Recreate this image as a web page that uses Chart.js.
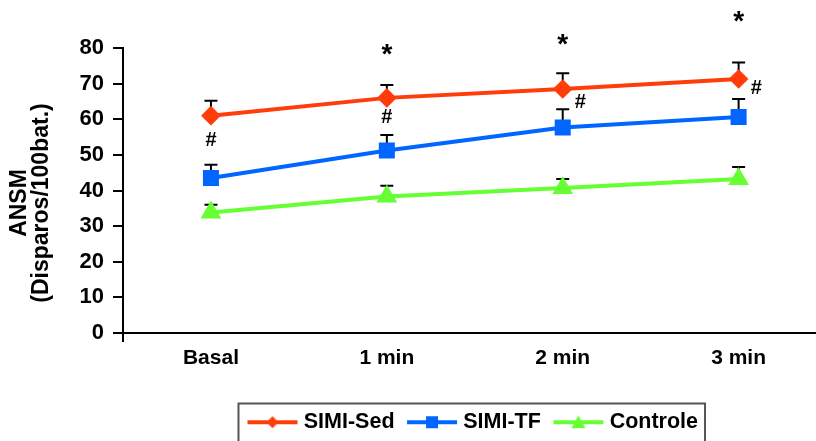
<!DOCTYPE html>
<html>
<head>
<meta charset="utf-8">
<script src="https://cdn.jsdelivr.net/npm/chart.js@4"></script>
<style>
  html, body { margin: 0; padding: 0; background: #fff; }
  #wrap { width: 816px; height: 441px; }
</style>
</head>
<body>
<div id="wrap"><canvas id="myChart"></canvas></div>
<script>
const xTimes = ["Basal", "1 min", "2 min", "3 min"];
const ySimiSed = [61, 66, 68.5, 71.3];
const eSimiSed = [4.2, 3.6, 4.4, 4.6];
const ySimiTF = [43.5, 51.2, 57.7, 60.6];
const eSimiTF = [3.7, 4.4, 5.1, 5.1];
const yControle = [33.8, 38.3, 40.7, 43.2];
const eControle = [2.2, 3.0, 2.5, 3.4];
const starY = [null, 78.9, 81.7, 88];
const hashY = [53.9, 60.6, 64.8, 68.5];
const hashShift = [0, 0, 0.1, 0.1];
const yTicks = [0, 10, 20, 30, 40, 50, 60, 70, 80];
const yTitle = ["ANSM", "(Disparos/100bat.)"];

const FONT = "'Liberation Sans', Arial, sans-serif";
Chart.defaults.font.family = FONT;
Chart.defaults.font.weight = "bold";
Chart.defaults.color = "#000";

function pts(arr) {
  return arr.map(function (v, i) { return {x: i, y: v}; });
}

function legendIcon(color, style) {
  const c = document.createElement("canvas");
  c.width = 52; c.height = 16;
  const g = c.getContext("2d");
  g.strokeStyle = color; g.lineWidth = 4;
  g.beginPath(); g.moveTo(1, 8); g.lineTo(51, 8); g.stroke();
  g.fillStyle = color;
  g.beginPath();
  if (style == "diamond") {
    g.moveTo(26, 2); g.lineTo(32, 8); g.lineTo(26, 14); g.lineTo(20, 8);
  } else if (style == "square") {
    g.rect(20, 2, 12, 12);
  } else {
    g.moveTo(26, 1); g.lineTo(33, 14); g.lineTo(19, 14);
  }
  g.closePath(); g.fill();
  return c;
}

const errs = [eSimiSed, eSimiTF, eControle];

const extras = {
  id: "extras",
  afterLayout(chart) {
    // legend box sits right of centre in the original
    chart.legend.left += 67;
    chart.legend.right += 67;
    chart.legend.top += 2;
    chart.legend.bottom += 2;
  },
  beforeDatasetsDraw(chart) {
    const ctx = chart.ctx, xs = chart.scales.x, ys = chart.scales.y;
    ctx.save();
    ctx.strokeStyle = "#000"; ctx.lineWidth = 2;
    chart.data.datasets.forEach(function (ds, d) {
      ds.data.forEach(function (p, i) {
        const px = xs.getPixelForValue(p.x);
        const y0 = ys.getPixelForValue(p.y);
        const y1 = ys.getPixelForValue(p.y + errs[d][i]);
        ctx.beginPath();
        ctx.moveTo(px, y0); ctx.lineTo(px, y1);
        ctx.moveTo(px - 6.5, y1); ctx.lineTo(px + 6.5, y1);
        ctx.stroke();
      });
    });
    ctx.restore();
  },
  afterDraw(chart) {
    const ctx = chart.ctx, xs = chart.scales.x, ys = chart.scales.y;
    const a = chart.chartArea;
    ctx.save();
    ctx.fillStyle = "#000";
    ctx.textAlign = "center"; ctx.textBaseline = "middle";
    ctx.font = "bold 28px " + FONT;
    starY.forEach(function (v, i) {
      if (v == null) return;
      ctx.fillText("*", xs.getPixelForValue(i), ys.getPixelForValue(v) + 3);
    });
    ctx.font = "bold 20px " + FONT;
    hashY.forEach(function (v, i) {
      ctx.fillText("#", xs.getPixelForValue(i + hashShift[i]), ys.getPixelForValue(v));
    });
    // axis title, two rotated lines
    ctx.save();
    ctx.translate(20, 203);
    ctx.rotate(-Math.PI / 2);
    ctx.font = "bold 23px " + FONT;
    ctx.fillText(yTitle[0], 0, 0);
    ctx.fillText(yTitle[1], 0, 22);
    ctx.restore();
    // y axis sticks out below the x axis
    ctx.strokeStyle = "#000"; ctx.lineWidth = 2;
    ctx.beginPath(); ctx.moveTo(a.left, a.bottom); ctx.lineTo(a.left, a.bottom + 9); ctx.stroke();
    // legend frame
    const hb = chart.legend.legendHitBoxes;
    if (hb && hb.length) {
      let l = hb[0].left, r = 0, t = hb[0].top;
      hb.forEach(function (h) {
        l = Math.min(l, h.left); r = Math.max(r, h.left + h.width);
        t = Math.min(t, h.top);
      });
      ctx.strokeStyle = "#555"; ctx.lineWidth = 2;
      ctx.strokeRect(l - 13.5, t - 8, r - l + 20.5, 60);
    }
    ctx.restore();
  }
};

new Chart("myChart", {
  type: "line",
  data: {
    datasets: [{
      label: "SIMI-Sed",
      data: pts(ySimiSed),
      borderColor: "#ff3c0a", backgroundColor: "#ff3c0a",
      borderWidth: 4, pointStyle: "rectRot", pointRadius: 7,
      icon: legendIcon("#ff3c0a", "diamond")
    }, {
      label: "SIMI-TF",
      data: pts(ySimiTF),
      borderColor: "#0066ff", backgroundColor: "#0066ff",
      borderWidth: 4, pointStyle: "rect", pointRadius: 8.5,
      icon: legendIcon("#0066ff", "square")
    }, {
      label: "Controle",
      data: pts(yControle),
      borderColor: "#66ff33", backgroundColor: "#66ff33",
      borderWidth: 4, pointStyle: "triangle", pointRadius: 8,
      icon: legendIcon("#66ff33", "triangle")
    }]
  },
  options: {
    responsive: true,
    maintainAspectRatio: false,
    animation: false,
    layout: {autoPadding: false, padding: {top: 48, right: 0, bottom: 0, left: 0}},
    plugins: {
      tooltip: {enabled: false},
      legend: {
        position: "bottom",
        labels: {
          usePointStyle: true,
          pointStyleWidth: 41,
          boxHeight: 16,
          padding: 17,
          font: {size: 21.5, weight: "bold"},
          color: "#000",
          generateLabels: function (chart) {
            return chart.data.datasets.map(function (ds, i) {
              return {text: ds.label, pointStyle: ds.icon, datasetIndex: i,
                      fillStyle: ds.borderColor, strokeStyle: ds.borderColor, lineWidth: 0, fontColor: "#000"};
            });
          }
        }
      }
    },
    scales: {
      x: {
        type: "linear",
        min: -0.5, max: 3.44,
        afterFit: function (s) { s.paddingLeft = 0; s.paddingRight = 0; s.height += 8.3; },
        grid: {display: false, drawTicks: false},
        border: {display: true, color: "#000", width: 2},
        ticks: {
          stepSize: 1, includeBounds: false, padding: 13,
          font: {size: 21, weight: "bold"}, color: "#000",
          callback: function (v) { return Number.isInteger(v) ? xTimes[v] : ""; }
        }
      },
      y: {
        min: 0, max: 80,
        afterFit: function (s) { s.width = 123; },
        afterBuildTicks: function (s) { s.ticks = yTicks.map(function (v) { return {value: v}; }); },
        grid: {drawOnChartArea: false, tickLength: 10, color: "#000", lineWidth: 2},
        border: {display: true, color: "#000", width: 2},
        ticks: {padding: 9, font: {size: 22, weight: "bold"}, color: "#000"}
      }
    }
  },
  plugins: [extras]
});
</script>
</body>
</html>
